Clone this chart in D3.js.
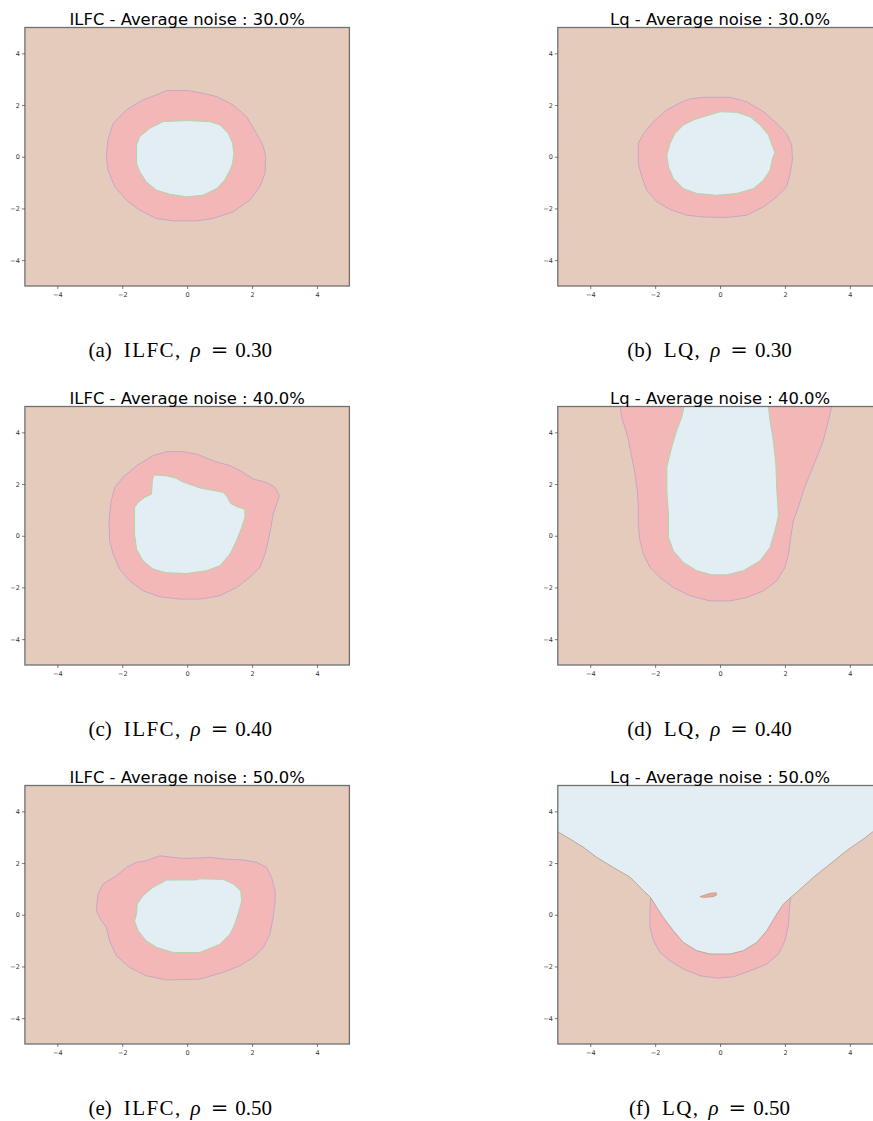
<!DOCTYPE html>
<html>
<head>
<meta charset="utf-8">
<script src="https://cdn.jsdelivr.net/npm/d3@7"></script>
<style>
  html, body { margin: 0; padding: 0; background: #ffffff; }
  svg { display: block; }
</style>
</head>
<body>
<script>
// ---------------- DATA ----------------
const titles = [
  "ILFC - Average noise : 30.0%", "Lq - Average noise : 30.0%",
  "ILFC - Average noise : 40.0%", "Lq - Average noise : 40.0%",
  "ILFC - Average noise : 50.0%", "Lq - Average noise : 50.0%"
];
const captionLetters = ["a", "b", "c", "d", "e", "f"];
const captionMethods = ["ILFC", "LQ", "ILFC", "LQ", "ILFC", "LQ"];
const captionRhos = ["0.30", "0.30", "0.40", "0.40", "0.50", "0.50"];
const tickValues = [-4, -2, 0, 2, 4];
const axisDomain = [-5, 5];

// (a) ILFC 30%
const ilfc30Outer = [[-0.64,2.56],[0.03,2.56],[0.39,2.48],[0.91,2.33],[1.42,2.00],[1.83,1.55],[2.14,0.90],[2.35,0.39],[2.42,0],[2.40,-0.65],[2.24,-1.16],[1.93,-1.68],[1.42,-2.13],[0.80,-2.39],[0.29,-2.48],[-0.43,-2.48],[-0.95,-2.39],[-1.46,-2.07],[-1.87,-1.68],[-2.23,-1.16],[-2.44,-0.52],[-2.49,0],[-2.44,0.65],[-2.28,1.29],[-1.87,1.81],[-1.36,2.20],[-0.95,2.39]];
const ilfc30Inner = [[-0.74,1.36],[-0.02,1.40],[0.70,1.36],[1.01,1.23],[1.27,0.90],[1.40,0.52],[1.44,0.13],[1.40,-0.26],[1.32,-0.52],[1.16,-0.90],[0.91,-1.23],[0.49,-1.49],[-0.02,-1.55],[-0.53,-1.45],[-0.95,-1.29],[-1.26,-0.97],[-1.46,-0.58],[-1.56,-0.26],[-1.56,0.45],[-1.46,0.78],[-1.15,1.10]];
// (b) Lq 30%
const lq30Outer = [[-0.92,2.24],[-0.51,2.30],[0.31,2.30],[0.82,2.13],[1.34,1.74],[1.75,1.29],[2.05,0.90],[2.21,0.45],[2.23,-0.13],[2.16,-0.65],[2.05,-1.16],[1.75,-1.55],[1.34,-1.94],[0.82,-2.26],[0.21,-2.35],[-0.51,-2.33],[-1.03,-2.26],[-1.54,-2.04],[-1.95,-1.74],[-2.26,-1.29],[-2.41,-0.78],[-2.52,-0.26],[-2.52,0.52],[-2.36,0.90],[-2.05,1.36],[-1.64,1.81],[-1.23,2.09]];
const lq30Inner = [[-0.51,1.55],[0,1.74],[0.51,1.72],[0.92,1.55],[1.23,1.23],[1.49,0.84],[1.62,0.39],[1.69,0.17],[1.62,-0.06],[1.54,-0.52],[1.34,-0.90],[1.03,-1.23],[0.51,-1.42],[-0.10,-1.49],[-0.72,-1.42],[-1.13,-1.23],[-1.44,-0.84],[-1.59,-0.39],[-1.64,0.06],[-1.54,0.52],[-1.39,0.90],[-1.13,1.23],[-0.82,1.42]];
// (c) ILFC 40%
const ilfc40Outer = [[-1.05,3.10],[-0.64,3.25],[-0.17,3.26],[0.29,3.16],[0.80,2.90],[1.32,2.71],[1.63,2.52],[2.04,2.19],[2.45,2.06],[2.71,1.87],[2.84,1.55],[2.76,1.23],[2.65,0.84],[2.60,0.45],[2.50,-0.19],[2.40,-0.71],[2.24,-1.23],[1.93,-1.61],[1.52,-2.00],[1.01,-2.32],[0.39,-2.45],[-0.23,-2.45],[-0.84,-2.36],[-1.36,-2.13],[-1.77,-1.74],[-2.08,-1.29],[-2.28,-0.71],[-2.39,-0.19],[-2.41,0.58],[-2.34,1.35],[-2.23,1.87],[-1.98,2.26],[-1.56,2.71]];
const ilfc40Inner = [[-1.03,2.35],[-0.64,2.32],[-0.33,2.22],[-0.17,2.10],[0.39,1.85],[1.11,1.68],[1.23,1.51],[1.34,1.25],[1.54,1.12],[1.78,1.03],[1.78,0.71],[1.68,0.32],[1.52,-0.19],[1.32,-0.71],[1.01,-1.16],[0.60,-1.35],[-0.02,-1.46],[-0.64,-1.43],[-1.05,-1.29],[-1.36,-0.97],[-1.56,-0.52],[-1.62,0.06],[-1.62,1.10],[-1.51,1.29],[-1.31,1.48],[-1.10,1.61],[-1.07,2.13]];
// (d) Lq 40%
const lq40Outer = [[-3.08,5.2],[-3.08,5],[-3.03,4.58],[-2.93,4.19],[-2.82,3.68],[-2.72,3.03],[-2.62,2.39],[-2.55,1.74],[-2.52,1.10],[-2.52,0.45],[-2.47,-0.19],[-2.36,-0.71],[-2.16,-1.23],[-1.85,-1.61],[-1.44,-2.00],[-0.92,-2.32],[-0.31,-2.52],[0.31,-2.52],[0.82,-2.39],[1.34,-2.13],[1.75,-1.74],[2.00,-1.23],[2.11,-0.71],[2.16,-0.19],[2.26,0.58],[2.41,1.10],[2.57,1.74],[2.77,2.39],[2.98,3.03],[3.18,3.68],[3.34,4.45],[3.44,5],[3.44,5.2]];
const lq40Inner = [[-1.11,5.2],[-1.11,5],[-1.18,4.58],[-1.34,4.06],[-1.49,3.42],[-1.64,2.65],[-1.64,1.74],[-1.59,0.84],[-1.59,-0.06],[-1.44,-0.58],[-1.13,-1.03],[-0.72,-1.35],[-0.26,-1.51],[0.21,-1.51],[0.72,-1.35],[1.23,-0.97],[1.54,-0.45],[1.69,0.19],[1.80,0.77],[1.75,1.74],[1.72,2.77],[1.64,3.68],[1.54,4.45],[1.49,5],[1.49,5.2]];
// (e) ILFC 50%
const ilfc50Outer = [[-1.26,2.09],[-0.84,2.28],[-0.43,2.22],[-0.17,2.18],[0.29,2.19],[0.70,2.22],[1.21,2.15],[1.73,2.12],[2.14,2.03],[2.45,1.83],[2.60,1.45],[2.71,0.93],[2.71,0.54],[2.65,-0.10],[2.55,-0.75],[2.35,-1.26],[2.04,-1.65],[1.63,-1.97],[1.11,-2.23],[0.39,-2.49],[-0.64,-2.52],[-1.26,-2.36],[-1.77,-2.04],[-2.18,-1.59],[-2.39,-1.01],[-2.49,-0.49],[-2.64,-0.23],[-2.80,0.15],[-2.75,0.80],[-2.59,1.19],[-2.18,1.51],[-1.87,1.83],[-1.56,2.03]];
const ilfc50Inner = [[-0.64,1.34],[0.29,1.35],[0.39,1.39],[1.11,1.37],[1.42,1.19],[1.65,0.93],[1.68,0.54],[1.60,0.15],[1.47,-0.36],[1.32,-0.75],[1.01,-1.14],[0.39,-1.46],[-0.43,-1.46],[-0.95,-1.26],[-1.26,-1.01],[-1.51,-0.62],[-1.62,-0.23],[-1.56,0.03],[-1.54,0.41],[-1.36,0.74],[-1.05,1.06]];
// (f) Lq 50%
const lq50Outer = [[-2.14,0.67],[-2.16,0.15],[-2.16,-0.49],[-2.05,-1.01],[-1.85,-1.46],[-1.54,-1.78],[-1.13,-2.10],[-0.62,-2.36],[-0.10,-2.45],[0.41,-2.40],[0.92,-2.17],[1.44,-1.91],[1.80,-1.52],[2.00,-1.01],[2.11,-0.36],[2.14,0.28],[2.18,0.67]];
const lq50Inner = [[-5.2,5.2],[-5.2,3.3],[-5,3.21],[-4.62,2.93],[-4.21,2.61],[-3.80,2.22],[-3.29,1.83],[-2.77,1.45],[-2.36,0.93],[-2.14,0.67],[-1.95,0.28],[-1.75,-0.10],[-1.44,-0.62],[-1.13,-1.07],[-0.72,-1.39],[-0.31,-1.52],[0.31,-1.52],[0.72,-1.39],[1.13,-1.07],[1.44,-0.62],[1.75,0.03],[1.95,0.41],[2.18,0.67],[2.36,0.86],[2.88,1.45],[3.39,1.96],[3.90,2.48],[4.42,2.93],[4.71,3.21],[5,3.35],[5.2,3.4],[5.2,5.2]];
const lq50Island = [[-0.62,0.70],[-0.31,0.83],[-0.12,0.85],[-0.10,0.77],[-0.21,0.70],[-0.51,0.67]];

const panelOuter = [ilfc30Outer, lq30Outer, ilfc40Outer, lq40Outer, ilfc50Outer, lq50Outer];
const panelInner = [ilfc30Inner, lq30Inner, ilfc40Inner, lq40Inner, ilfc50Inner, lq50Inner];
const panelIslands = [[], [], [], [], [], [lq50Island]];

// ---------------- LAYOUT ----------------
const W = 873, H = 1121;
const colLeft = [24.9, 557.8];
const plotW = 324.5, plotH = 258.5;
const rowTop0 = 27.5, rowStep = 379;
const captionCenters = [180.3, 709.5];
const captionBase0 = 356.5;

const colors = {
  bg: "#e5cbbc", pink: "#f4b7b8", blue: "#e2eef4",
  pinkEdge: "#c8a6c4", blueEdge: "#b3d4a6", frame: "#707070"
};

const svg = d3.select("body").append("svg").attr("width", W).attr("height", H);

for (let i = 0; i < 6; i++) {
  const col = i % 2, row = Math.floor(i / 2);
  const left = colLeft[col], top = rowTop0 + row * rowStep;
  const x = d3.scaleLinear().domain(axisDomain).range([left, left + plotW]);
  const y = d3.scaleLinear().domain(axisDomain).range([top + plotH, top]);
  const line = d3.line().x(d => x(d[0])).y(d => y(d[1])).curve(d3.curveLinearClosed);

  const clipId = "clip" + i;
  svg.append("clipPath").attr("id", clipId)
    .append("rect").attr("x", left).attr("y", top).attr("width", plotW).attr("height", plotH);

  const g = svg.append("g").attr("clip-path", `url(#${clipId})`);
  g.append("rect").attr("x", left).attr("y", top).attr("width", plotW).attr("height", plotH)
    .attr("fill", colors.bg);
  g.append("path").datum(panelOuter[i]).attr("d", line)
    .attr("fill", colors.pink).attr("stroke", colors.pinkEdge).attr("stroke-width", 1);
  g.append("path").datum(panelInner[i]).attr("d", line)
    .attr("fill", colors.blue).attr("stroke", i === 5 ? "#b9a79c" : colors.blueEdge).attr("stroke-width", 1);
  panelIslands[i].forEach(isl => {
    g.append("path").datum(isl).attr("d", line)
      .attr("fill", "#eda98f").attr("stroke", "#c39a8a").attr("stroke-width", 0.8);
  });

  // frame
  svg.append("rect").attr("x", left).attr("y", top).attr("width", plotW).attr("height", plotH)
    .attr("fill", "none").attr("stroke", colors.frame).attr("stroke-width", 1.3);

  // axes
  const xa = svg.append("g").attr("transform", `translate(0,${top + plotH})`)
    .call(d3.axisBottom(x).tickValues(tickValues).tickSize(3).tickPadding(3));
  const ya = svg.append("g").attr("transform", `translate(${left},0)`)
    .call(d3.axisLeft(y).tickValues(tickValues).tickSize(3).tickPadding(2));
  [xa, ya].forEach(a => {
    a.select(".domain").remove();
    a.selectAll(".tick line").attr("stroke", "#444").attr("stroke-width", 0.7);
    a.selectAll(".tick text").attr("fill", "#333").style("font-family", "DejaVu Sans")
      .style("font-size", "6.5px");
  });

  // title
  svg.append("text").attr("x", left + plotW / 2).attr("y", top - 3)
    .attr("text-anchor", "middle").attr("fill", "#000")
    .style("font-family", "DejaVu Sans").style("font-size", "16.4px")
    .text(titles[i]);

  // caption (TeX-like spacing)
  const cap = svg.append("text").attr("x", captionCenters[col]).attr("y", captionBase0 + row * rowStep)
    .attr("text-anchor", "middle").attr("fill", "#000")
    .style("font-family", "Liberation Serif").style("font-size", "21px");
  cap.append("tspan").text(`(${captionLetters[i]})`);
  cap.append("tspan").attr("dx", 12).style("letter-spacing", "1.4px").text(`${captionMethods[i]},`);
  cap.append("tspan").attr("dx", 9).style("font-style", "italic").text("ρ");
  cap.append("tspan").attr("dx", 10).style("font-family", "DejaVu Serif").text("=");
  cap.append("tspan").attr("dx", 7).text(captionRhos[i]);
}
</script>
</body>
</html>
